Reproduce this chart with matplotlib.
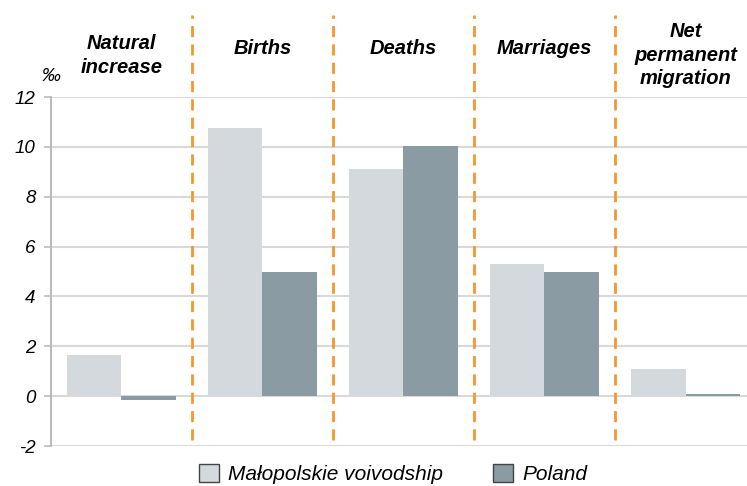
import matplotlib.pyplot as plt
from matplotlib.patches import Patch
import numpy as np

plt.rcParams['font.family'] = ['Liberation Sans', 'DejaVu Sans']

categories = ['Natural\nincrease', 'Births', 'Deaths', 'Marriages', 'Net\npermanent\nmigration']
malopolskie = [1.65, 10.75, 9.1, 5.3, 1.1]
poland = [-0.15, 5.0, 10.05, 5.0, 0.1]
series_names = ['Małopolskie voivodship', 'Poland']
yticks = [-2, 0, 2, 4, 6, 8, 10, 12]

light = '#d4d9dd'
dark = '#8a9ba4'
orange = '#f7962f'

fig = plt.figure(figsize=(7.47, 4.86), dpi=100)
ax = fig.add_axes([0.068, 0.0823, 0.932, 0.7181])

x = np.arange(len(categories))
w = 0.385
ax.bar(x - w / 2, malopolskie, w, color=light, zorder=2)
ax.bar(x + w / 2, poland, w, color=dark, zorder=2)

ax.set_xlim(-0.5, 4.436)
ax.set_ylim(-2, 12)
ax.set_yticks(yticks)
ax.set_yticklabels([str(v) for v in yticks], fontsize=13.5, style='italic')
ax.set_xticks([])
ax.grid(axis='y', color='#d9d9d9', linewidth=1.5, zorder=0)
ax.tick_params(axis='y', length=5, color='#bbbbbb', width=1.2, pad=6)
for s in ['top', 'right', 'bottom']:
    ax.spines[s].set_visible(False)
ax.spines['left'].set_color('#bbbbbb')
ax.spines['left'].set_linewidth(1.5)

# group dividers
for b in x[:-1] + 0.5:
    ax.plot([b, b], [-1.76, 15.28], color=orange, linewidth=2,
            dashes=(4, 2.6), clip_on=False, zorder=3)

# group labels above the plot
for xi, c in zip(x, categories):
    yc = 13.67 if '\n' in c else 13.95
    ax.text(xi, yc, c, ha='center', va='center', fontsize=14.5,
            fontweight='bold', style='italic', linespacing=1.3)

ax.text(-0.5, 12.5, '‰', fontsize=13.5, style='italic', ha='center', va='bottom')

handles = [Patch(facecolor=light, edgecolor='#444444', linewidth=1),
           Patch(facecolor=dark, edgecolor='#444444', linewidth=1)]
fig.legend(handles, series_names, loc='center', bbox_to_anchor=(393 / 747, 1 - 474 / 486),
           ncol=2, frameon=False, prop={'style': 'italic', 'size': 15},
           handlelength=0.95, handleheight=0.95, handletextpad=0.45, columnspacing=2.4)

fig.savefig('out.png', dpi=100)
